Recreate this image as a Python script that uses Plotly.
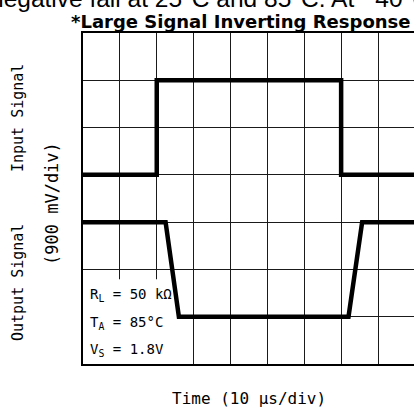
import plotly.graph_objects as go

# Time base: 10 us per division; vertical scale in divisions (900 mV/div)
t_in = [0, 20, 20, 70, 70, 100]
v_in = [4, 4, 6, 6, 4, 4]
t_out = [0, 22.4, 26.0, 72.0, 75.7, 100]
v_out = [3, 3, 1, 1, 3, 3]

cond_lines = ["R<sub>L</sub> = 50 kΩ", "T<sub>A</sub> = 85°C", "V<sub>S</sub> = 1.8V"]

W, H = 414, 411
L, T, B, R = 83, 33, 47, 0
PW, PH = W - L - R, H - T - B
DIV_PX = 36.875
X_MAX = 10 * PW / DIV_PX


def px(x):
    return (x - L) / PW


def py(y):
    return (H - B - y) / PH


fig = go.Figure()

fig.add_trace(go.Scatter(x=t_in, y=v_in, mode="lines",
                         line=dict(color="black", width=4.5), hoverinfo="skip"))
fig.add_trace(go.Scatter(x=t_out, y=v_out, mode="lines",
                         line=dict(color="black", width=4.5), hoverinfo="skip"))

# blank panel behind the test conditions
fig.add_shape(type="rect", xref="x", yref="y", x0=0, x1=25.5, y0=0, y1=1.79,
              fillcolor="white", line=dict(width=0), layer="between")

mono = "DejaVu Sans Mono"
ann = []
for txt, yc in zip(cond_lines, [295, 323, 350]):
    ann.append(dict(text=txt, x=px(88), y=py(yc), xref="paper", yref="paper",
                    xanchor="left", yanchor="middle", showarrow=False,
                    font=dict(family=mono, size=14, color="black")))

ann += [
    dict(text="negative fall at 25°C and 85°C. At −40°C", x=px(-12), y=py(-2),
         xref="paper", yref="paper", xanchor="left", yanchor="middle",
         showarrow=False, font=dict(family="Liberation Sans", size=24.5, color="black")),
    dict(text="<b>*Large Signal Inverting Response</b>", x=px(241), y=py(22),
         xref="paper", yref="paper", xanchor="center", yanchor="middle",
         showarrow=False, font=dict(family="DejaVu Sans", size=18, color="black")),
    dict(text="Time (10 µs/div)", x=px(249), y=py(399), xref="paper", yref="paper",
         xanchor="center", yanchor="middle", showarrow=False,
         font=dict(family=mono, size=16, color="black")),
    dict(text="Input Signal", x=px(18), y=py(118), xref="paper", yref="paper",
         xanchor="center", yanchor="middle", textangle=-90, showarrow=False,
         font=dict(family=mono, size=15, color="black")),
    dict(text="Output Signal", x=px(18), y=py(283), xref="paper", yref="paper",
         xanchor="center", yanchor="middle", textangle=-90, showarrow=False,
         font=dict(family=mono, size=15, color="black")),
    dict(text="(900 mV/div)", x=px(52), y=py(204), xref="paper", yref="paper",
         xanchor="center", yanchor="middle", textangle=-90, showarrow=False,
         font=dict(family=mono, size=17, color="black")),
]

fig.update_layout(
    width=W, height=H,
    margin=dict(l=L, r=R, t=T, b=B, pad=0),
    paper_bgcolor="white", plot_bgcolor="white",
    showlegend=False,
    annotations=ann,
    xaxis=dict(range=[0, X_MAX], dtick=10, tick0=0, showgrid=True,
               gridcolor="#1a1a1a", gridwidth=1.3, zeroline=False,
               showticklabels=False, ticks="", showline=True, mirror=True,
               linecolor="black", linewidth=2.2, fixedrange=True),
    yaxis=dict(range=[0, 7], dtick=1, tick0=0, showgrid=True,
               gridcolor="#1a1a1a", gridwidth=1.3, zeroline=False,
               showticklabels=False, ticks="", showline=True, mirror=False,
               linecolor="black", linewidth=2.2, fixedrange=True),
)

fig.write_html("out.html", config={"displayModeBar": False})
